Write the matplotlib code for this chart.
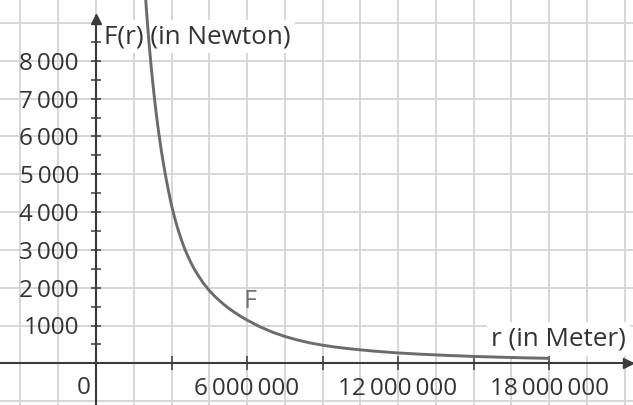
import matplotlib
matplotlib.use("Agg")
import matplotlib.pyplot as plt

plt.rcParams['font.family'] = ['Open Sans', 'DejaVu Sans']

# Data (r in metres, F in Newton)
r_values = [1.9e6, 2.0e6, 2.1e6, 2.2e6, 2.3e6, 2.4e6, 2.5e6, 2.6e6, 2.7e6, 2.8e6,
            2.9e6, 3.0e6, 3.1e6, 3.2e6, 3.3e6, 3.4e6, 3.5e6, 3.6e6, 3.7e6, 3.8e6,
            3.9e6, 4.0e6, 4.25e6, 4.5e6, 4.75e6, 5.0e6, 5.25e6, 5.5e6, 5.75e6, 6.0e6,
            6.5e6, 7.0e6, 7.5e6, 8.0e6, 8.5e6, 9.0e6, 9.5e6, 10e6, 11e6, 12e6,
            13e6, 14e6, 15e6, 16e6, 17e6, 18e6]
F_values = [10388, 9375, 8526, 7789, 7146, 6563, 6064, 5607, 5199, 4834,
            4495, 4178, 3913, 3672, 3453, 3253, 3069, 2909, 2761, 2625,
            2498, 2388, 2132, 1926, 1751, 1600, 1466, 1349, 1240, 1144,
            970, 827, 711, 617, 540, 479, 430, 390, 324, 274,
            237, 207, 182, 162, 145, 131]

x_tick_values = [3e6, 6e6, 9e6, 12e6, 15e6, 18e6]
x_tick_labels = ['', '6\u2009000\u2009000', '', '12\u2009000\u2009000', '', '18\u2009000\u2009000']
y_tick_values = [500, 1000, 1500, 2000, 2500, 3000, 3500, 4000, 4500, 5000,
                 5500, 6000, 6500, 7000, 7500, 8000, 8500]
y_tick_labels = ['', '1000', '', '2\u2009000', '', '3\u2009000', '', '4\u2009000', '',
                 '5\u2009000', '', '6\u2009000', '', '7\u2009000', '', '8\u2009000', '']
x_grid = [-3e6, -1.5e6, 0, 1.5e6, 3e6, 4.5e6, 6e6, 7.5e6, 9e6, 10.5e6, 12e6,
          13.5e6, 15e6, 16.5e6, 18e6, 19.5e6, 21e6]
y_grid = [-1000, 0, 1000, 2000, 3000, 4000, 5000, 6000, 7000, 8000, 9000]

W, H = 633, 405
fig = plt.figure(figsize=(W / 100, H / 100), dpi=100)
ax = fig.add_axes([0, 0, 1, 1])
ax.set_facecolor('white')

# pixel geometry
x0_px, px_per_m = 96.0, 25.17 / 1e6
y0_px, px_per_n = 363.3, 37.8 / 1000
xlim = (-x0_px / px_per_m, (W - x0_px) / px_per_m)
ylim = (-(H - y0_px) / px_per_n, y0_px / px_per_n)
ax.set_xlim(*xlim)
ax.set_ylim(*ylim)

gridc = '#d6d6d6'
for gx in x_grid:
    ax.axvline(gx, color=gridc, lw=1.4, zorder=0.2)
for gy in y_grid:
    ax.axhline(gy, color=gridc, lw=1.4, zorder=0.2)

axc = '#3a3a3a'
ax.spines['top'].set_visible(False)
ax.spines['right'].set_visible(False)
ax.spines['left'].set_position(('data', 0))
ax.spines['bottom'].set_position(('data', 0))
for s in ('left', 'bottom'):
    ax.spines[s].set_color(axc)
    ax.spines[s].set_linewidth(1.5)
    ax.spines[s].set_zorder(2.6)
y_top = (y0_px - 16) / px_per_n
ax.spines['left'].set_bounds(ylim[0], y_top)

# arrow heads
ax.plot([xlim[1] - 5 / px_per_m], [0], marker='>', color=axc, markersize=7,
        clip_on=False, zorder=3)
ax.plot([0], [(y0_px - 19) / px_per_n], marker='^', color=axc, markersize=7,
        clip_on=False, zorder=3)

txtc = '#333333'
fs = 17.5
fs_lab = 18.8
ax.set_xticks(x_tick_values)
ax.set_xticklabels(x_tick_labels)
ax.set_yticks(y_tick_values)
ax.set_yticklabels(y_tick_labels)
ax.tick_params(axis='x', direction='inout', length=9.4, width=1.1, color=axc,
               pad=5.0, labelsize=fs, labelcolor=txtc)
ax.tick_params(axis='y', direction='inout', length=7.9, width=1.1, color=axc,
               pad=8.3, labelsize=fs, labelcolor=txtc)

# origin label
ax.annotate('0', xy=(0, 0), xytext=(-5, -13), textcoords='offset pixels',
            ha='right', va='top', fontsize=fs, color=txtc)

# axis labels with white background
bb = dict(facecolor='white', edgecolor='none', pad=3)
ax.text(104 / W, 1 - 43.3 / H, 'F(r) (in Newton)', transform=ax.transAxes,
        ha='left', va='baseline', fontsize=fs_lab, color=txtc, bbox=bb, zorder=1)
ax.text(491 / W, 1 - 345.5 / H, 'r (in Meter)', transform=ax.transAxes,
        ha='left', va='baseline', fontsize=fs_lab, color=txtc, bbox=bb, zorder=1)

# curve
ax.plot(r_values, F_values, color='#6b6b6b', lw=2.1, zorder=3,
        solid_capstyle='butt', solid_joinstyle='round')
ax.text(244 / W, 1 - 307.5 / H, 'F', transform=ax.transAxes, ha='left',
        va='baseline', fontsize=18, color='#707070', zorder=1)

fig.savefig('out.png', dpi=100)
